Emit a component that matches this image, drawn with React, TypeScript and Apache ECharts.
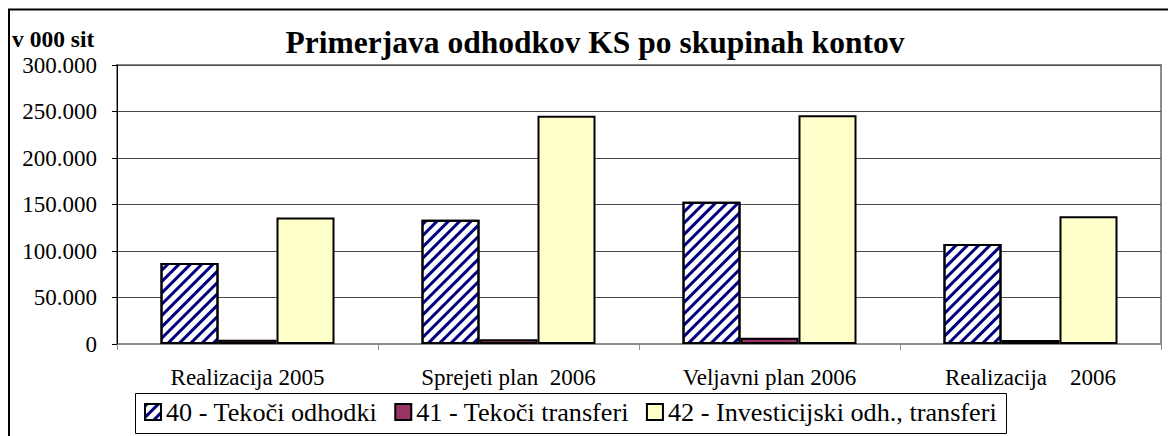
import React, { useEffect, useRef } from "react";
import * as echarts from "echarts";

const categories = ["Realizacija 2005", "Sprejeti plan  2006", "Veljavni plan 2006", "Realizacija    2006"];
const seriesNames = ["40 - Tekoči odhodki", "41 - Tekoči transferi", "42 - Investicijski odh., transferi"];
const tekociOdhodki = [87000, 133500, 153000, 107500];
const tekociTransferi = [4500, 5000, 6800, 4300];
const investicijski = [136000, 245500, 246000, 137500];
const yTicks = { min: 0, max: 300000, interval: 50000 };

const FONT = "Liberation Serif, Times New Roman, serif";

export default function App() {
  const ref = useRef<HTMLDivElement>(null);
  useEffect(() => {
    if (!ref.current) return;
    const chart = echarts.init(ref.current, null, { renderer: "svg" });
    const barBase = {
      type: "bar" as const,
      barWidth: 58,
      barGap: "0%",
    };
    chart.setOption({
      animation: false,
      backgroundColor: "#ffffff",
      textStyle: { fontFamily: FONT },
      grid: {
        left: 117,
        right: 7,
        top: 65,
        bottom: 92,
        show: true,
        borderColor: "#8c8c8c",
        borderWidth: 2,
        backgroundColor: "transparent",
      },
      legend: {
        left: 144,
        top: 399,
        padding: 0,
        itemWidth: 16,
        itemHeight: 16,
        itemGap: 17,
        icon: "rect",
        textStyle: { fontFamily: FONT, fontSize: 26.2, color: "#000" },
        data: seriesNames,
      },
      xAxis: {
        type: "category",
        data: categories,
        axisLine: { lineStyle: { color: "#8c8c8c", width: 1 } },
        axisTick: { show: true, length: 6, lineStyle: { color: "#8c8c8c" } },
        axisLabel: { fontFamily: FONT, fontSize: 23, color: "#000", margin: 22, interval: 0 },
        splitLine: { show: false },
      },
      yAxis: {
        type: "value",
        min: yTicks.min,
        max: yTicks.max,
        interval: yTicks.interval,
        axisLine: { show: true, lineStyle: { color: "#000", width: 1 } },
        axisTick: { show: true, length: 5, lineStyle: { color: "#000" } },
        axisLabel: {
          fontFamily: FONT,
          fontSize: 23,
          color: "#000",
          margin: 20,
          formatter: (v: number) => (v === 0 ? "0" : (v / 1000).toFixed(0) + ".000"),
        },
        splitLine: { show: true, lineStyle: { color: "#4a4a4a", width: 1 } },
      },
      series: [
        {
          ...barBase,
          name: seriesNames[0],
          data: tekociOdhodki,
          itemStyle: {
            color: "#ffffff",
            borderColor: "#000",
            borderWidth: 2,
            decal: {
              symbol: "rect",
              symbolSize: 1,
              color: "#000080",
              dashArrayX: [1, 0],
              dashArrayY: [2.6, 4.4],
              rotation: -Math.PI / 4,
            },
          },
        },
        {
          ...barBase,
          name: seriesNames[1],
          data: tekociTransferi,
          itemStyle: { color: "#993366", borderColor: "#000", borderWidth: 2 },
        },
        {
          ...barBase,
          name: seriesNames[2],
          data: investicijski,
          itemStyle: { color: "#ffffcc", borderColor: "#000", borderWidth: 2 },
        },
      ],
      graphic: [
        {
          type: "rect",
          silent: true,
          shape: { x: 9, y: 9.5, width: 1300, height: 600 },
          style: { fill: "none", stroke: "#000", lineWidth: 2 },
        },
        {
          type: "rect",
          silent: true,
          shape: { x: 135.5, y: 393.5, width: 871, height: 40 },
          style: { fill: "none", stroke: "#000", lineWidth: 1 },
        },
        {
          type: "text",
          x: 595,
          y: 42,
          silent: true,
          style: {
            text: "Primerjava odhodkov KS po skupinah kontov",
            textAlign: "center",
            textVerticalAlign: "middle",
            font: `bold 31.5px ${FONT}`,
            fill: "#000",
          },
        },
        {
          type: "text",
          x: 12,
          y: 39,
          silent: true,
          style: {
            text: "v 000 sit",
            textAlign: "left",
            textVerticalAlign: "middle",
            font: `bold 23.5px ${FONT}`,
            fill: "#000",
          },
        },
      ],
    });
    return () => chart.dispose();
  }, []);
  return (
    <div
      ref={ref}
      style={{ position: "fixed", left: 0, top: 0, width: 1168, height: 436, background: "#fff" }}
    />
  );
}
